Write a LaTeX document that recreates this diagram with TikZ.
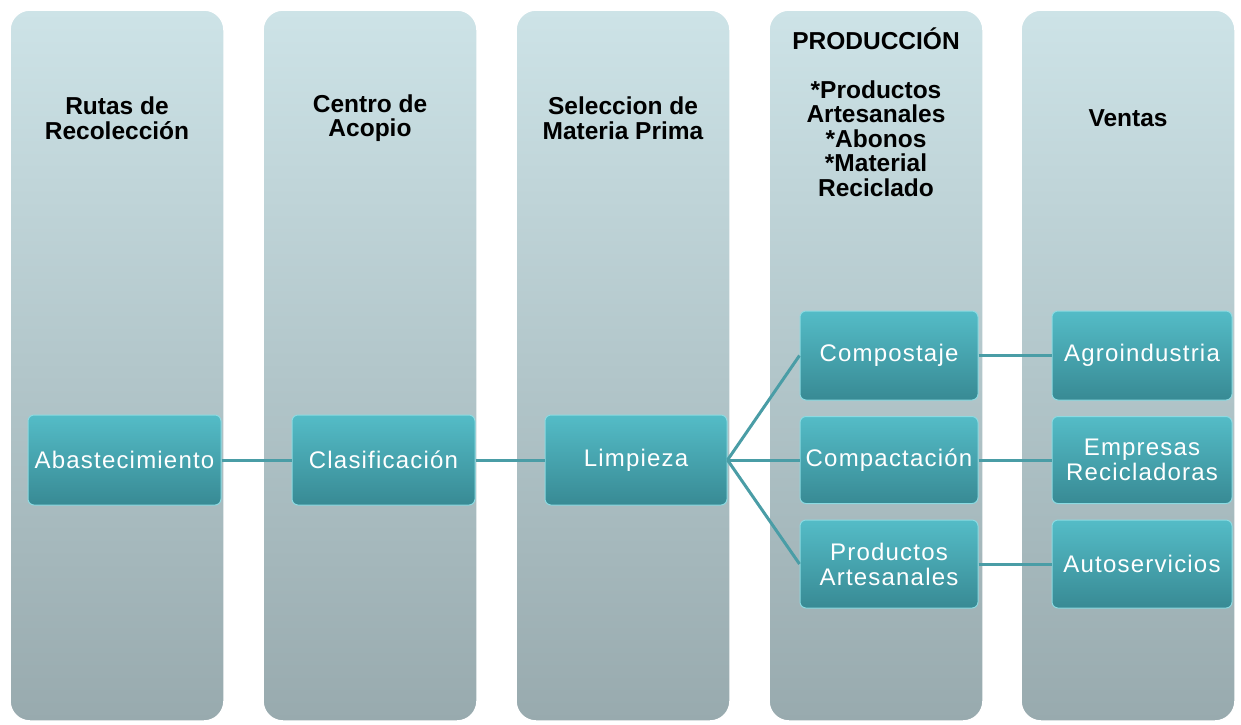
\documentclass[tikz,border=0pt]{standalone}
\usepackage{fontspec}
\setmainfont{Liberation Sans}
\newfontfamily\nodefont[LetterSpace=5]{Liberation Sans}
\begin{document}
\begin{tikzpicture}[x=1pt,y=-1pt,
  colbox/.style={rounded corners=20pt, top color=colTop, bottom color=colBot, draw=white, line width=1.5pt},
  stepbox/.style={rounded corners=6pt, top color=nodeTop, bottom color=nodeBot, draw=nodeRim, line width=1pt,
     inner sep=0pt, align=center, text=white, font=\nodefont\fontsize{24}{25}\selectfont},
  hdr/.style={align=center, font=\fontsize{24.5}{24.5}\selectfont\bfseries, text=black, inner sep=0pt},
  link/.style={draw=linkCol, line width=3pt}]
\definecolor{colTop}{RGB}{205,227,231}
\definecolor{colBot}{RGB}{152,170,174}
\definecolor{nodeTop}{RGB}{84,188,199}
\definecolor{nodeBot}{RGB}{56,138,148}
\definecolor{nodeRim}{RGB}{140,218,225}
\definecolor{linkCol}{RGB}{74,157,166}
\useasboundingbox (0,0) rectangle (1241,724);
% columns
\foreach \x/\n in {10/c1,263/c2,516/c3,769/c4,1021/c5}{
  \path[colbox] (\x,10) rectangle ++(214,711);
}
% headers
\node[hdr] (h1) at (117,118) {Rutas de\\Recolección};
\node[hdr] (h2) at (370,118) {Centro de\\Acopio};
\node[hdr] (h3) at (623,118) {Seleccion de\\Materia Prima};
\node[hdr] (h4) at (876,112) {PRODUCCIÓN\\[24.5pt]*Productos\\Artesanales\\*Abonos\\*Material\\Reciclado};
\node[hdr] (h5) at (1128,118) {Ventas};
% nodes
\node[stepbox, minimum width=193pt, minimum height=90pt] (abas) at (124.5,460) {Abastecimiento};
\node[stepbox, minimum width=183pt, minimum height=90pt] (clas) at (383.5,460) {Clasificación};
\node[stepbox, minimum width=182pt, minimum height=90pt] (limp) at (636,460) {Limpieza\vphantom{Ab}};
\node[stepbox, minimum width=178pt, minimum height=89pt] (comp) at (889,355.5) {Compostaje};
\node[stepbox, minimum width=178pt, minimum height=87pt] (compa) at (889,460) {Compactación};
\node[stepbox, minimum width=178pt, minimum height=88pt] (prod) at (889,564) {Productos\\Artesanales};
\node[stepbox, minimum width=180pt, minimum height=89pt] (agro) at (1142,355.5) {Agroindustria};
\node[stepbox, minimum width=180pt, minimum height=87pt] (emp) at (1142,460) {Empresas\\Recicladoras};
\node[stepbox, minimum width=180pt, minimum height=88pt] (auto) at (1142,564) {Autoservicios};
% connectors
\path[link] (abas.east) -- (clas.west);
\path[link] (clas.east) -- (limp.west);
\path[link] (limp.east) -- (comp.west);
\path[link] (limp.east) -- (compa.west);
\path[link] (limp.east) -- (prod.west);
\path[link] (comp.east) -- (agro.west);
\path[link] (compa.east) -- (emp.west);
\path[link] (prod.east) -- (auto.west);
\end{tikzpicture}
\end{document}
